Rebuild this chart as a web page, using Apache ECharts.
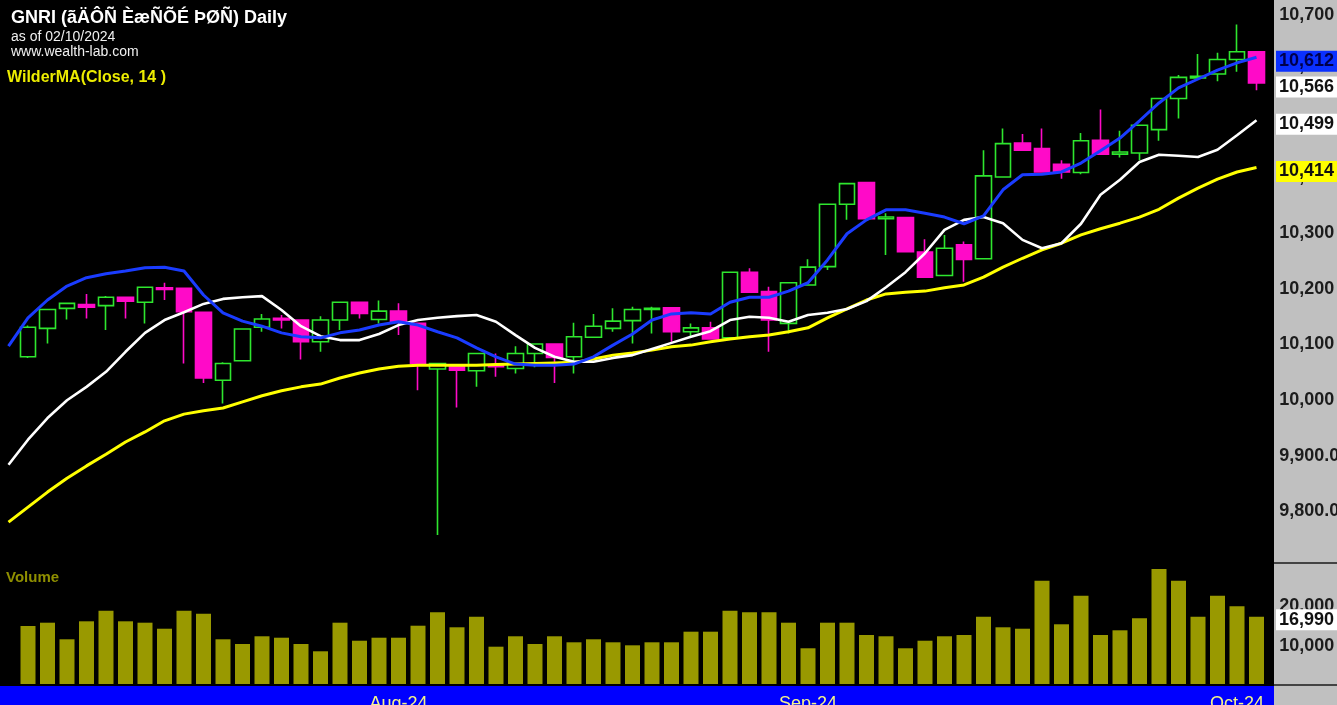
<!DOCTYPE html>
<html><head><meta charset="utf-8">
<script src="https://cdn.jsdelivr.net/npm/echarts@6/dist/echarts.min.js"></script>
<style>html,body{margin:0;padding:0;background:#000;overflow:hidden}#c{width:1337px;height:705px}</style>
</head><body><div id="c"></div><script>
// ---- data ----
const categories = ['2024-07-03','2024-07-04','2024-07-05','2024-07-08','2024-07-09','2024-07-10','2024-07-11','2024-07-12','2024-07-15','2024-07-16','2024-07-17','2024-07-18','2024-07-19','2024-07-22','2024-07-23','2024-07-24','2024-07-25','2024-07-26','2024-07-29','2024-07-30','2024-07-31',
'2024-08-01','2024-08-02','2024-08-05','2024-08-06','2024-08-07','2024-08-08','2024-08-09','2024-08-12','2024-08-13','2024-08-14','2024-08-16','2024-08-19','2024-08-20','2024-08-21','2024-08-22','2024-08-23','2024-08-26','2024-08-27','2024-08-28','2024-08-29','2024-08-30',
'2024-09-02','2024-09-03','2024-09-04','2024-09-05','2024-09-06','2024-09-09','2024-09-10','2024-09-11','2024-09-12','2024-09-13','2024-09-16','2024-09-17','2024-09-18','2024-09-19','2024-09-20','2024-09-23','2024-09-24','2024-09-25','2024-09-26','2024-09-27','2024-09-30',
'2024-10-01','2024-10-02'];
// candles start at the 2nd category (first category is a lead-in bar with indicator values only)
const opens  = [10074,10125,10161,10168,10166,10181,10172,10198,10197,10154,10032,10067,10127,10143,10140,10101,10140,10172,10141,10156,10134,10052,10059,10049,10059,10053,10080,10097,10074,10109,10125,10139,10159,10162,10119,10126,10108,10226,10191,10134,10203,10236,10348,10387,10322,10324,10262,10220,10275,10250,10397,10458,10448,10420,10405,10463,10438,10440,10482,10538,10575,10582,10608,10622];
const closes = [10127,10159,10170,10163,10181,10174,10199,10195,10155,10036,10062,10124,10142,10140,10101,10140,10172,10152,10156,10138,10062,10062,10050,10080,10056,10080,10097,10073,10110,10129,10138,10159,10161,10119,10126,10106,10226,10190,10140,10207,10235,10348,10385,10322,10325,10263,10217,10269,10249,10399,10457,10445,10406,10406,10462,10438,10442,10490,10538,10576,10578,10608,10622,10566];
const lows   = [10072,10098,10141,10143,10122,10143,10134,10176,10062,10027,9990,10067,10119,10125,10069,10083,10122,10143,10134,10113,10014,9754,9983,10020,10038,10044,10055,10027,10044,10109,10119,10098,10116,10101,10110,10106,10106,10190,10083,10116,10203,10230,10320,10322,10257,10263,10217,10220,10209,10250,10397,10445,10406,10394,10402,10438,10432,10427,10462,10502,10574,10569,10586,10553];
const highs  = [10130,10160,10171,10187,10183,10182,10199,10207,10197,10154,10064,10124,10151,10149,10140,10147,10172,10172,10175,10170,10134,10062,10059,10080,10080,10093,10097,10097,10135,10151,10161,10164,10164,10162,10134,10137,10226,10233,10200,10207,10249,10348,10385,10387,10332,10324,10285,10293,10281,10445,10484,10474,10484,10427,10476,10518,10480,10490,10538,10580,10618,10620,10671,10622];
const volumes = [14650,15480,11290,15830,18510,15830,15480,13960,18510,17750,11290,10100,12050,11690,10100,8260,15480,10930,11690,11690,14720,18110,14320,16990,9420,12050,10100,12050,10530,11290,10530,9770,10530,10530,13210,13210,18510,18110,18110,15480,9020,15480,15480,12370,12050,9020,10930,12050,12370,16990,14320,13960,26090,15080,22300,12370,13560,16590,29040,26090,16990,22300,19620,16990];
const blueMA  = [10093,10144,10176,10201,10216,10223,10228,10234,10235,10228,10185,10153,10138,10129,10117,10110,10108,10117,10122,10131,10137,10131,10119,10108,10090,10074,10061,10059,10059,10061,10074,10095,10115,10140,10151,10153,10151,10172,10181,10181,10192,10207,10248,10295,10320,10338,10338,10332,10325,10313,10327,10374,10401,10402,10406,10422,10444,10467,10498,10530,10557,10573,10589,10602,10612];
const whiteMA = [9880,9925,9964,9996,10020,10047,10083,10117,10140,10154,10169,10178,10181,10183,10158,10129,10111,10104,10104,10115,10131,10140,10144,10147,10149,10137,10113,10090,10074,10065,10065,10072,10077,10088,10099,10110,10120,10140,10146,10144,10137,10149,10153,10160,10174,10199,10226,10260,10302,10320,10325,10314,10284,10269,10278,10313,10365,10392,10424,10437,10435,10433,10446,10472,10499];
const wilderMA = [9777,9804,9831,9856,9878,9899,9921,9939,9959,9971,9977,9982,9993,10004,10013,10020,10025,10036,10045,10052,10057,10059,10059,10059,10059,10060,10061,10062,10063,10064,10070,10077,10081,10086,10092,10095,10101,10106,10110,10113,10119,10126,10144,10160,10176,10187,10190,10192,10198,10203,10217,10235,10251,10266,10278,10293,10304,10314,10325,10339,10359,10377,10393,10406,10414];
const monthLabels  = ['Aug-24','Sep-24','Oct-24'];
const monthLabelAt = ['2024-07-31','2024-08-30','2024-10-01'];
const volTickLabels = [10000, 20000];
const titleText = 'GNRI (ãÄÔÑ ÈæÑÕÉ ÞØÑ) Daily';
const asOfText = 'as of 02/10/2024';
const siteText = 'www.wealth-lab.com';
const indicatorText = 'WilderMA(Close, 14 )';
const volumeText = 'Volume';

// ---- build ----
const candleData = ['-'].concat(opens.map((o,i)=>[o, closes[i], lows[i], highs[i]]));
const volData = ['-'].concat(volumes);
const fmt = v => Number(v).toLocaleString('en-US');
const W = 1337, H = 705, PANEL_X = 1274;
const GL = -1.25, GW = 19.5 * categories.length;
const AX_FONT = 'Liberation Sans';

const chart = echarts.init(document.getElementById('c'), null, {renderer:'canvas'});
const option = {
  animation: false,
  backgroundColor: '#000',
  grid: [
    {left: GL, width: GW, top: 8.3, height: 556.7, containLabel:false, outerBoundsMode:'none'},
    {left: GL, width: GW, top: 565, height: 119, containLabel:false, outerBoundsMode:'none'}
  ],
  xAxis: [
    {type:'category', gridIndex:0, data: categories, show:false, boundaryGap:true},
    {type:'category', gridIndex:1, data: categories, boundaryGap:true,
     axisLine:{show:false}, axisTick:{show:false}, splitLine:{show:false},
     axisLabel:{
       interval: (idx, val) => monthLabelAt.indexOf(val) >= 0,
       formatter: val => monthLabels[monthLabelAt.indexOf(val)] || '',
       color:'#f4f48a', fontFamily: AX_FONT, fontSize: 18, margin: 10,
       verticalAlign:'top', lineHeight: 20
     }}
  ],
  yAxis: [
    {type:'value', gridIndex:0, position:'right', min:9700, max:10700, interval:100,
     axisLine:{show:false}, axisTick:{show:false}, splitLine:{show:false},
     axisLabel:{
       margin: 13, color:'#1c1c1c', fontFamily: AX_FONT, fontWeight:'bold', fontSize: 18,
       hideOverlap:false,
       formatter: v => {
         if (v <= 9700) return '';
         if (v >= 10700) return '{t|' + fmt(v) + '}';
         if (v >= 10000) return '{n|' + fmt(v) + '}';
         return '{n|' + v.toLocaleString('en-US',{minimumFractionDigits:2, maximumFractionDigits:2}) + '}';
       },
       rich: {
         t:{padding:[14,0,0,0], color:'#1c1c1c', fontFamily: AX_FONT, fontWeight:'bold', fontSize:18},
         n:{padding:[4,0,0,0], color:'#1c1c1c', fontFamily: AX_FONT, fontWeight:'bold', fontSize:18}
       }
     }},
    {type:'value', gridIndex:1, position:'right', min:0, max:30050, interval:10000,
     axisLine:{show:false}, axisTick:{show:false}, splitLine:{show:false},
     axisLabel:{
       margin: 13, color:'#1c1c1c', fontFamily: AX_FONT, fontWeight:'bold', fontSize: 18,
       formatter: v => volTickLabels.indexOf(v) >= 0 ? '{n|' + fmt(v) + '}' : '',
       rich: { n:{padding:[3,0,0,0], color:'#1c1c1c', fontFamily: AX_FONT, fontWeight:'bold', fontSize:18} }
     }}
  ],
  series: [
    {type:'candlestick', xAxisIndex:0, yAxisIndex:0, data: candleData, barWidth: 16, z: 2,
     itemStyle:{color:'rgba(0,0,0,0)', color0:'#ff0ac8', borderColor:'#2ee62e', borderColor0:'#ff0ac8', borderWidth:1.6}},
    {type:'line', xAxisIndex:0, yAxisIndex:0, data: wilderMA, showSymbol:false, symbol:'none', z:4,
     lineStyle:{color:'#ffff00', width:3}},
    {type:'line', xAxisIndex:0, yAxisIndex:0, data: whiteMA, showSymbol:false, symbol:'none', z:5,
     lineStyle:{color:'#ffffff', width:2.6}},
    {type:'line', xAxisIndex:0, yAxisIndex:0, data: blueMA, showSymbol:false, symbol:'none', z:6,
     lineStyle:{color:'#1a3cff', width:3}},
    {type:'bar', xAxisIndex:1, yAxisIndex:1, data: volData, barWidth: 15, z:2,
     itemStyle:{color:'#999900'}}
  ],
  graphic: { elements: [
    {id:'panel', type:'rect', z:-10, silent:true, shape:{x:PANEL_X, y:0, width:W-PANEL_X, height:H}, style:{fill:'#c0c0c0'}},
    {id:'band', type:'rect', z:-10, silent:true, shape:{x:0, y:686, width:PANEL_X, height:H-686}, style:{fill:'#0000ff'}},
    {id:'sep1', type:'line', z:-9, silent:true, shape:{x1:PANEL_X, y1:563, x2:W, y2:563}, style:{stroke:'#1a1a1a', lineWidth:1.5}},
    {id:'sep2', type:'line', z:-9, silent:true, shape:{x1:PANEL_X, y1:685, x2:W, y2:685}, style:{stroke:'#1a1a1a', lineWidth:1.5}},
    {id:'t1', type:'text', x:11, y:18, z:20, style:{text:titleText, fill:'#ffffff', font:'bold 18px "Liberation Sans"', verticalAlign:'middle'}},
    {id:'t2', type:'text', x:11, y:37, z:20, style:{text:asOfText, fill:'#f0f0f0', font:'14px "Liberation Sans"', verticalAlign:'middle'}},
    {id:'t3', type:'text', x:11, y:52, z:20, style:{text:siteText, fill:'#f0f0f0', font:'14px "Liberation Sans"', verticalAlign:'middle'}},
    {id:'t4', type:'text', x:7, y:78, z:20, style:{text:indicatorText, fill:'#ecec00', font:'bold 16px "Liberation Sans"', verticalAlign:'middle'}},
    {id:'t5', type:'text', x:6, y:578, z:20, style:{text:volumeText, fill:'#8f8f00', font:'bold 15px "Liberation Sans"', verticalAlign:'middle'}}
  ]}
};
chart.setOption(option);

// last-value boxes on the right scale, positioned through the axes
const lastIdx = categories.length - 1;
const boxes = [
  {axis:0, value: blueMA[lastIdx], bg:'#0a30ff', color:'#00004a'},
  {axis:0, value: closes[closes.length-1], bg:'#ffffff', color:'#111'},
  {axis:0, value: whiteMA[lastIdx], bg:'#ffffff', color:'#111'},
  {axis:0, value: wilderMA[lastIdx], bg:'#ffff00', color:'#111'},
  {axis:1, value: volumes[volumes.length-1], bg:'#ffffff', color:'#111'}
];
const els = [];
boxes.forEach((b, k) => {
  const py = chart.convertToPixel({yAxisIndex: b.axis}, b.value) + (b.axis === 0 ? 4 : 3);
  els.push({id:'bx'+k, type:'rect', z:50, silent:true, shape:{x:1276, y:py-10.5, width:61, height:21}, style:{fill:b.bg}});
  els.push({id:'bt'+k, type:'text', z:51, silent:true, x:1279, y:py, style:{text:fmt(b.value), fill:b.color, font:'bold 18px "Liberation Sans"', verticalAlign:'middle'}});
});
chart.setOption({graphic:{elements: els}});
</script></body></html>
